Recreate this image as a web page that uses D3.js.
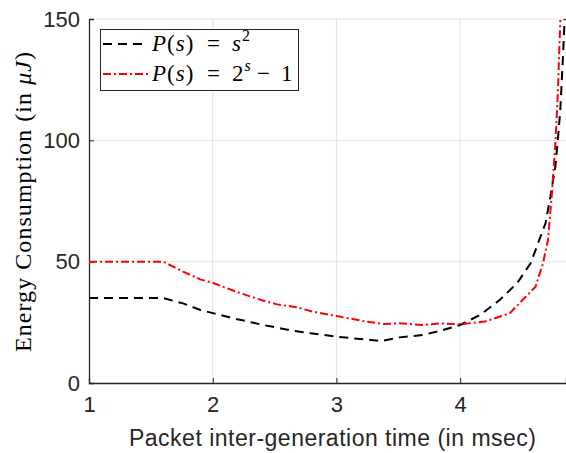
<!DOCTYPE html>
<html><head><meta charset="utf-8">
<script src="https://cdn.jsdelivr.net/npm/d3@7"></script>
<style>html,body{margin:0;padding:0;background:#fff;}svg{display:block;}</style>
</head><body>
<script>
const xTicks = [1, 2, 3, 4];
const yTicks = [0, 50, 100, 150];
const sqX = [1, 1.6, 1.76, 1.9, 2.01, 2.19, 2.41, 2.62, 2.79, 3.0, 3.22, 3.36, 3.51, 3.70, 3.86, 4.0, 4.16, 4.32, 4.46, 4.57, 4.63, 4.69, 4.73, 4.77, 4.79, 4.81, 4.83, 4.845];
const sqY = [35, 35, 32.8, 30.1, 28.7, 26.4, 23.9, 21.8, 20.5, 19.1, 18.0, 17.3, 18.8, 19.8, 21.8, 23.9, 28, 34.2, 41.1, 49.3, 57.6, 65.8, 76.8, 89.1, 100.1, 112.5, 133, 150];
const expX = [1, 1.6, 1.76, 1.9, 2.01, 2.19, 2.41, 2.52, 2.68, 2.81, 3.0, 3.22, 3.38, 3.51, 3.70, 3.84, 4.0, 4.2, 4.40, 4.61, 4.67, 4.71, 4.74, 4.77, 4.79, 4.81];
const expY = [50, 50, 45.9, 42.7, 41.1, 37.6, 33.9, 32.4, 31.2, 29.4, 27.6, 25.5, 24.3, 24.6, 23.9, 24.6, 24.2, 25.3, 28.7, 39.7, 49.3, 58.9, 76.8, 98.8, 119.4, 149.6];
const xLabel = "Packet inter-generation time (in msec)";

const W = 566, H = 453;
const L = 89, R = 566, T = 19, B = 383;
const svg = d3.select("body").append("svg").attr("width", W).attr("height", H);
const x = d3.scaleLinear().domain([1, 4.856]).range([L, R]);
const y = d3.scaleLinear().domain([0, 150]).range([B, T]);

svg.append("defs").append("clipPath").attr("id", "clip")
  .append("rect").attr("x", L).attr("y", T - 1).attr("width", R - L).attr("height", B - T + 1);

// grid
const grid = svg.append("g");
grid.selectAll("line.gx").data(xTicks.filter(d => d > 1)).join("line")
  .attr("x1", d => x(d)).attr("x2", d => x(d)).attr("y1", T).attr("y2", B)
  .attr("stroke", "#e3e3e3").attr("stroke-width", 1);
grid.selectAll("line.gy").data(yTicks.filter(d => d > 0)).join("line")
  .attr("y1", d => y(d)).attr("y2", d => y(d)).attr("x1", L).attr("x2", R)
  .attr("stroke", "#e3e3e3").attr("stroke-width", 1);

// axes
const axColor = "#262626";
const xAxis = svg.append("g").attr("transform", `translate(0,${B})`)
  .call(d3.axisBottom(x).tickValues(xTicks).tickSize(-5).tickPadding(13).tickFormat(d3.format("d")));
const yAxis = svg.append("g").attr("transform", `translate(${L},0)`)
  .call(d3.axisLeft(y).tickValues(yTicks).tickSize(-5).tickPadding(9).tickFormat(d3.format("d")));
[xAxis, yAxis].forEach(a => {
  a.select(".domain").attr("stroke", axColor).attr("stroke-width", 1.3);
  a.selectAll(".tick line").attr("stroke", axColor);
  a.selectAll(".tick text").attr("fill", axColor).attr("font-family", "Liberation Sans, Arial, sans-serif").attr("font-size", 22);
});
xAxis.selectAll(".tick text").attr("dy", "0.71em");

// lines
const plot = svg.append("g").attr("clip-path", "url(#clip)");
const line = d3.line().x(d => x(d[0])).y(d => y(d[1]));
plot.append("path").datum(sqX.map((v, i) => [v, sqY[i]])).attr("d", line)
  .attr("fill", "none").attr("stroke", "#000").attr("stroke-width", 2).attr("stroke-dasharray", "9,6");
plot.append("path").datum(expX.map((v, i) => [v, expY[i]])).attr("d", line)
  .attr("fill", "none").attr("stroke", "#ff0000").attr("stroke-width", 2).attr("stroke-dasharray", "8,3,2,3");

// x label
svg.append("text").attr("x", 129).attr("y", 446)
  .attr("font-family", "Liberation Sans, Arial, sans-serif").attr("font-size", 23).attr("fill", axColor)
  .attr("textLength", 407).attr("lengthAdjust", "spacing")
  .text(xLabel);

// y label (serif, LaTeX-like)
const yl = svg.append("text").attr("transform", "translate(31,352) rotate(-90)")
  .attr("font-family", "Liberation Serif, Times New Roman, serif").attr("font-size", 24).attr("fill", "#000")
  .attr("textLength", 300).attr("lengthAdjust", "spacing");
yl.append("tspan").text("Energy Consumption (in ");
yl.append("tspan").attr("font-style", "italic").text("μJ");
yl.append("tspan").text(")");

// legend
const lg = svg.append("g");
lg.append("rect").attr("x", 100.5).attr("y", 29.5).attr("width", 198).attr("height", 61)
  .attr("fill", "#fff").attr("stroke", axColor).attr("stroke-width", 1);
const rows = [
  { color: "#000", dash: "9,6", y: 44, rhs: "s", rhsItalic: true, sup: "2", supItalic: false, tail: null },
  { color: "#ff0000", dash: "8,3,2,3", y: 74, rhs: "2", rhsItalic: false, sup: "s", supItalic: true, tail: "1" }
];
const serif = "Liberation Serif, Times New Roman, serif";
rows.forEach(r => {
  lg.append("line").attr("x1", 103).attr("x2", 148).attr("y1", r.y).attr("y2", r.y)
    .attr("stroke", r.color).attr("stroke-width", 2).attr("stroke-dasharray", r.dash);
  const g = lg.append("g").attr("font-family", serif).attr("font-size", 23).attr("fill", "#000");
  const t = g.append("text").attr("x", 152).attr("y", r.y + 7).attr("letter-spacing", 1);
  t.append("tspan").attr("font-style", "italic").text("P");
  t.append("tspan").text("(");
  t.append("tspan").attr("font-style", "italic").text("s");
  t.append("tspan").text(")");
  g.append("text").attr("x", 207).attr("y", r.y + 7).text("=");
  const rt = g.append("text").attr("x", 232).attr("y", r.y + 7);
  rt.append("tspan").attr("font-style", r.rhsItalic ? "italic" : "normal").text(r.rhs);
  rt.append("tspan").attr("font-size", 16).attr("dy", -10).attr("dx", 1).attr("font-style", r.supItalic ? "italic" : "normal").text(r.sup);
  if (r.tail) {
    g.append("text").attr("x", 257).attr("y", r.y + 7).text("−");
    g.append("text").attr("x", 281).attr("y", r.y + 7).text(r.tail);
  }
});
</script>
</body></html>
